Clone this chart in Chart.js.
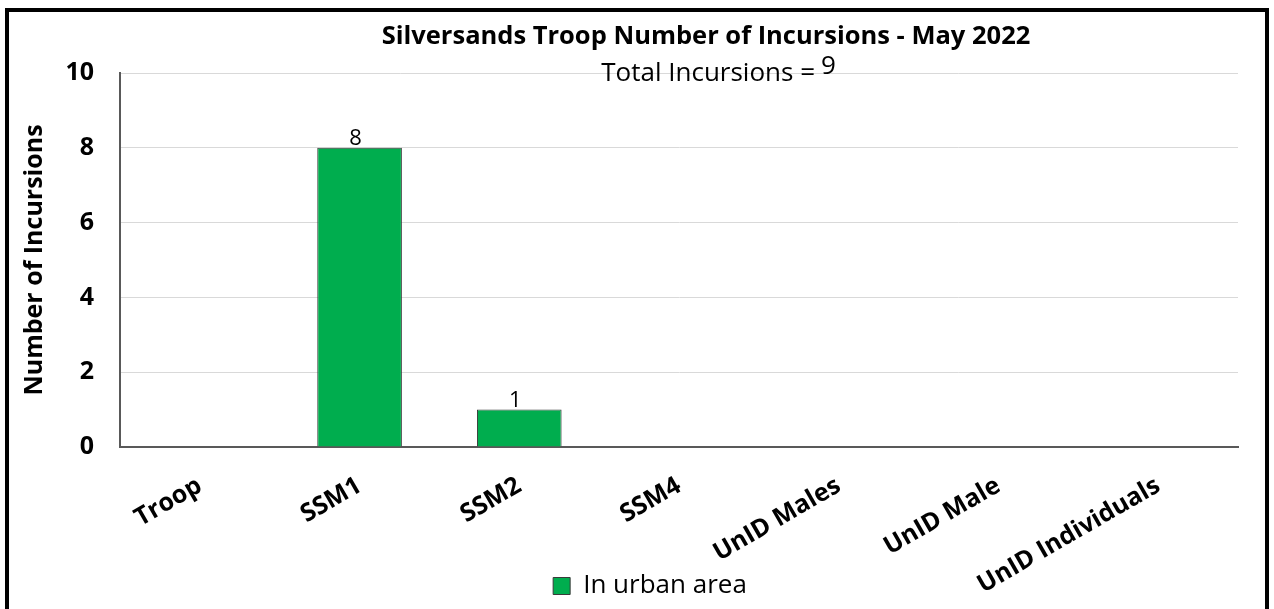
<!DOCTYPE html>
<html>
<head>
<meta charset="utf-8">
<script src="https://cdn.jsdelivr.net/npm/chart.js@4/dist/chart.umd.min.js"></script>
<style>
  html, body { margin: 0; padding: 0; background: #fff; }
  #wrap { position: relative; width: 1274px; height: 609px; }
</style>
</head>
<body>
<div id="wrap"><canvas id="c" width="1274" height="609"></canvas></div>
<script>
const chartTitle = 'Silversands Troop Number of Incursions - May 2022';
const subtitleText = 'Total Incursions =';
const totalIncursions = '9';
const categories = ['Troop', 'SSM1', 'SSM2', 'SSM4', 'UnID Males', 'UnID Male', 'UnID Individuals'];
const urbanValues = [0, 8, 1, 0, 0, 0, 0];
const seriesName = 'In urban area';
const yAxisTitle = 'Number of Incursions';

const FONT = '"Open Sans", Lato, sans-serif';

const framePlugin = {
  id: 'frame',
  beforeDraw(chart) {
    const ctx = chart.ctx;
    ctx.save();
    ctx.fillStyle = '#fff';
    ctx.fillRect(0, 0, chart.width, chart.height);
    ctx.strokeStyle = '#000';
    ctx.lineWidth = 4;
    ctx.strokeRect(7, 10, 1260, 620);
    ctx.restore();
  },
  afterLayout(chart) {
    // shift the bottom legend so it is centred like the reference
    if (chart.legend) {
      chart.legend.left += 26;
      chart.legend.right += 26;
    }
  }
};

const textPlugin = {
  id: 'texts',
  afterDraw(chart) {
    const ctx = chart.ctx;
    ctx.save();
    ctx.fillStyle = '#000';
    ctx.textBaseline = 'alphabetic';
    ctx.textAlign = 'center';
    ctx.font = 'bold 25.5px ' + FONT;
    ctx.fillText(chartTitle, 706, 44);
    ctx.font = '26px ' + FONT;
    ctx.textAlign = 'right';
    ctx.fillText(subtitleText, 815, 81);
    ctx.textAlign = 'left';
    ctx.fillText(totalIncursions, 821, 74);
    // data labels
    const meta = chart.getDatasetMeta(0);
    ctx.font = '22px ' + FONT;
    ctx.textAlign = 'center';
    meta.data.forEach((bar, i) => {
      const v = chart.data.datasets[0].data[i];
      if (v > 0) ctx.fillText(String(v), bar.x - 4, bar.y - 3);
    });
    ctx.restore();
  }
};

new Chart(document.getElementById('c'), {
  type: 'bar',
  data: {
    labels: categories,
    datasets: [{
      label: seriesName,
      data: urbanValues,
      backgroundColor: '#00AD4E',
      borderColor: '#3A3A3A',
      borderWidth: 1,
      categoryPercentage: 1.0,
      barPercentage: 0.53
    }]
  },
  options: {
    responsive: false,
    animation: false,
    devicePixelRatio: 1,
    layout: { padding: { top: 73, left: 10, right: 36, bottom: 0 } },
    plugins: {
      title: { display: false },
      tooltip: { enabled: false },
      legend: {
        position: 'bottom',
        labels: {
          color: '#000',
          font: { family: FONT, size: 26 },
          boxWidth: 17,
          boxHeight: 17,
          padding: 6
        }
      }
    },
    scales: {
      x: {
        grid: { display: false, drawTicks: false },
        border: { display: true, color: '#595959', width: 2 },
        ticks: {
          color: '#000',
          font: { family: FONT, size: 25, weight: 'bold' },
          minRotation: 30,
          maxRotation: 30,
          padding: 24,
          autoSkip: false
        },
        afterFit(scale) {
          scale.height = 120;
          // let the rotated labels run past the scale box, as in the reference
          scale._computeLabelArea = function () { return undefined; };
        }
      },
      y: {
        min: 0,
        max: 10,
        ticks: {
          stepSize: 2,
          color: '#000',
          font: { family: FONT, size: 25, weight: 'bold' },
          padding: 26
        },
        grid: { color: '#D9D9D9', drawTicks: false },
        border: { display: true, color: '#595959', width: 2 },
        title: {
          display: true,
          text: yAxisTitle,
          color: '#000',
          font: { family: FONT, size: 25, weight: 'bold' },
          padding: { top: 10, bottom: 0 }
        },
        afterFit(scale) { scale.width = 110; }
      }
    }
  },
  plugins: [framePlugin, textPlugin]
});
</script>
</body>
</html>
